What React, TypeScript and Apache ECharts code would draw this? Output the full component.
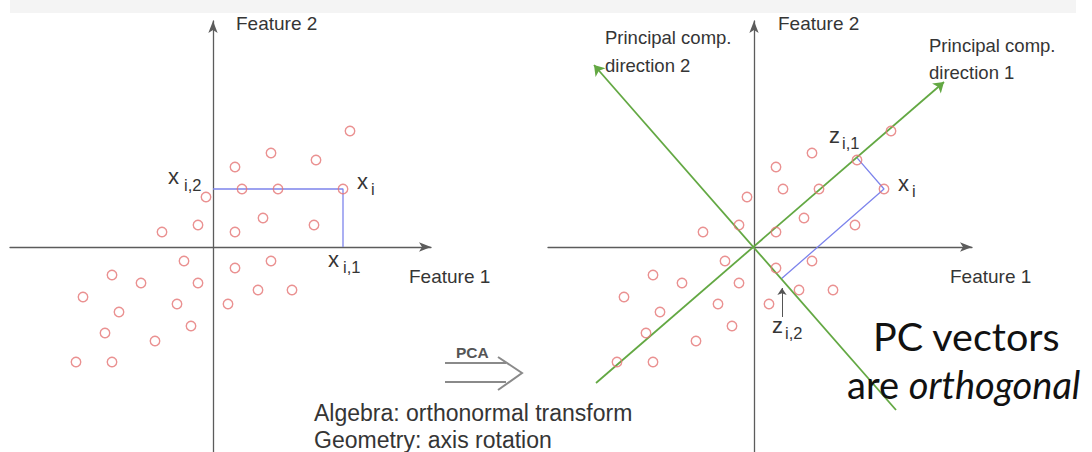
import React, { useEffect, useRef } from "react";
import * as echarts from "echarts";

// ---- data (feature space units) ----
const pointsX = [13.7, 5.8, 10.3, 2.2, 2.9, 6.5, 13.0, -0.7, 5.0, 10.1, -1.5, -5.1, 2.2, -2.9, 5.8, 2.2, -10.1, -7.2, -1.5, 4.5, 7.9, -13.0, -3.6, 1.5, -9.4, -10.8, -2.2, -5.8, -13.7, -10.1];
const pointsY = [11.6, 9.4, 8.7, 8.0, 5.8, 5.8, 5.8, 5.0, 2.9, 2.2, 2.2, 1.5, 1.5, -1.4, -1.4, -2.1, -2.8, -3.6, -3.6, -4.3, -4.3, -5.0, -5.7, -5.7, -6.5, -8.6, -7.9, -9.4, -11.5, -11.5];
const highlightIndex = 6; // x_i

// principal component direction lines (start -> arrow end)
const pc1Start = [-15.8, -13.6];
const pc1End = [19.0, 16.5];
const pc2Start = [14.2, -16.3];
const pc2End = [-16.0, 18.2];

// pointer arrow to z_i,2 (tail -> tip)
const pointerTail = [2.8, -7.0];
const pointerTip = [2.8, -4.1];

// axis ranges
const leftXRange = [-20.3, 21.8];
const rightXRange = [-20.6, 21.8];
const yRange = [-20.5, 22.6];

const FONT = "Liberation Sans";
const TXT = "#353535";
const RED = "#e57676";
const BLUE = "#7d84ec";
const GREEN = "#63a843";
const AXIS = "#5c5c5c";

function unit(a: number[], b: number[]) {
  const dx = b[0] - a[0];
  const dy = b[1] - a[1];
  const l = Math.sqrt(dx * dx + dy * dy);
  return [dx / l, dy / l];
}
function project(p: number[], u: number[]) {
  const d = p[0] * u[0] + p[1] * u[1];
  return [u[0] * d, u[1] * d];
}

function txt(x: number, y: number, text: string, size: number, extra: any = {}) {
  return {
    type: "text",
    x,
    y,
    z: 100,
    silent: true,
    style: {
      text,
      fontSize: size,
      fontFamily: FONT,
      fill: TXT,
      textAlign: "left",
      textVerticalAlign: "middle",
      ...extra,
    },
  };
}

export default function App() {
  const ref = useRef<HTMLDivElement>(null);
  useEffect(() => {
    if (!ref.current) return;
    const chart = echarts.init(ref.current, undefined, { renderer: "svg" });
    const pts = pointsX.map((x, i) => [x, pointsY[i]]);
    const xi = pts[highlightIndex];
    const z1 = project(xi, unit(pc1Start, pc1End));
    const z2 = project(xi, unit(pc2Start, pc2End));

    const axisCommon = {
      type: "value",
      axisLine: {
        show: true,
        onZero: true,
        symbol: ["none", "arrow"],
        symbolSize: [7, 12],
        lineStyle: { color: AXIS, width: 1.3 },
      },
      axisTick: { show: false },
      axisLabel: { show: false },
      splitLine: { show: false },
    };
    const scatterCommon = {
      type: "scatter",
      symbol: "circle",
      symbolSize: 9.5,
      itemStyle: { color: "rgba(0,0,0,0)", borderColor: RED, borderWidth: 1.4 },
      z: 5,
      silent: true,
    };

    const option: any = {
      animation: false,
      backgroundColor: "#ffffff",
      grid: [
        { left: 10, top: 21, width: 421, height: 431, outerBoundsMode: "none" },
        { left: 548, top: 21, width: 424, height: 431, outerBoundsMode: "none" },
      ],
      xAxis: [
        { ...axisCommon, gridIndex: 0, min: leftXRange[0], max: leftXRange[1] },
        { ...axisCommon, gridIndex: 1, min: rightXRange[0], max: rightXRange[1] },
      ],
      yAxis: [
        { ...axisCommon, gridIndex: 0, min: yRange[0], max: yRange[1] },
        { ...axisCommon, gridIndex: 1, min: yRange[0], max: yRange[1] },
      ],
      series: [
        {
          type: "line",
          xAxisIndex: 0,
          yAxisIndex: 0,
          data: [[0, xi[1]], xi, [xi[0], 0]],
          symbol: "none",
          lineStyle: { color: BLUE, width: 1.3 },
          z: 3,
          silent: true,
        },
        {
          type: "line",
          xAxisIndex: 1,
          yAxisIndex: 1,
          data: [z1, xi, z2],
          symbol: "none",
          lineStyle: { color: BLUE, width: 1.3 },
          z: 3,
          silent: true,
          markLine: {
            silent: true,
            symbol: ["none", "arrow"],
            symbolSize: 10,
            label: { show: false },
            lineStyle: { color: GREEN, width: 1.8, type: "solid" },
            emphasis: { disabled: true },
            data: [
              [{ coord: pc1Start }, { coord: pc1End }],
              [{ coord: pc2Start }, { coord: pc2End }],
              [
                { coord: pointerTail, lineStyle: { color: "#555", width: 1, type: "solid" } },
                { coord: pointerTip, symbolSize: 7 },
              ],
            ],
          },
        },
        { ...scatterCommon, xAxisIndex: 0, yAxisIndex: 0, data: pts },
        { ...scatterCommon, xAxisIndex: 1, yAxisIndex: 1, data: pts },
      ],
      graphic: [
        { type: "rect", z: -1, silent: true, shape: { x: 10, y: 0, width: 1066, height: 13 }, style: { fill: "#f4f4f4" } },
        // left panel
        txt(236, 23, "Feature 2", 19),
        txt(409, 276, "Feature 1", 19),
        txt(168, 176, "x", 22),
        txt(184, 185, "i,2", 16.5),
        txt(357, 181, "x", 22),
        txt(371, 189, "i", 16.5),
        txt(328, 259, "x", 22),
        txt(343, 267, "i,1", 16.5),
        // right panel
        txt(778, 23, "Feature 2", 19),
        txt(950, 276, "Feature 1", 19),
        txt(605, 37, "Principal comp.", 18.5),
        txt(605, 65, "direction 2", 18.5),
        txt(929, 45, "Principal comp.", 18.5),
        txt(929, 72, "direction 1", 18.5),
        txt(829, 135, "z", 22),
        txt(842, 143, "i,1", 16.5),
        txt(898, 183, "x", 22),
        txt(912, 191, "i", 16.5),
        txt(772, 325, "z", 22),
        txt(785, 333, "i,2", 16.5),
        // PCA arrow
        txt(456, 352, "PCA", 15.5, { fontWeight: "bold", fill: "#555" }),
        { type: "line", silent: true, shape: { x1: 445, y1: 363, x2: 506, y2: 363 }, style: { stroke: "#8a8a8a", lineWidth: 2 } },
        { type: "line", silent: true, shape: { x1: 445, y1: 382, x2: 506, y2: 382 }, style: { stroke: "#8a8a8a", lineWidth: 2 } },
        { type: "polyline", silent: true, shape: { points: [[498, 357], [522, 373], [498, 390]] }, style: { stroke: "#8a8a8a", lineWidth: 2, fill: "none" } },
        // captions
        txt(314, 413, "Algebra: orthonormal transform", 23),
        txt(314, 440, "Geometry: axis rotation", 23),
        txt(873, 335, "PC vectors", 39.5, { fontFamily: "Lato", fill: "#111" }),
        {
          type: "text",
          x: 847,
          y: 384,
          z: 100,
          silent: true,
          style: {
            text: "{n|are }{i|orthogonal}",
            textAlign: "left",
            textVerticalAlign: "middle",
            fill: "#111",
            fontFamily: "Lato",
            fontSize: 38,
            rich: {
              n: { fontFamily: "Lato", fontSize: 38, fill: "#111" },
              i: { fontFamily: "Lato", fontSize: 38, fontStyle: "italic", fill: "#111" },
            },
          },
        },
      ],
    };
    chart.setOption(option);
    return () => chart.dispose();
  }, []);
  return (
    <div
      ref={ref}
      style={{ position: "fixed", left: 0, top: 0, width: 1092, height: 452, background: "#fff" }}
    />
  );
}
